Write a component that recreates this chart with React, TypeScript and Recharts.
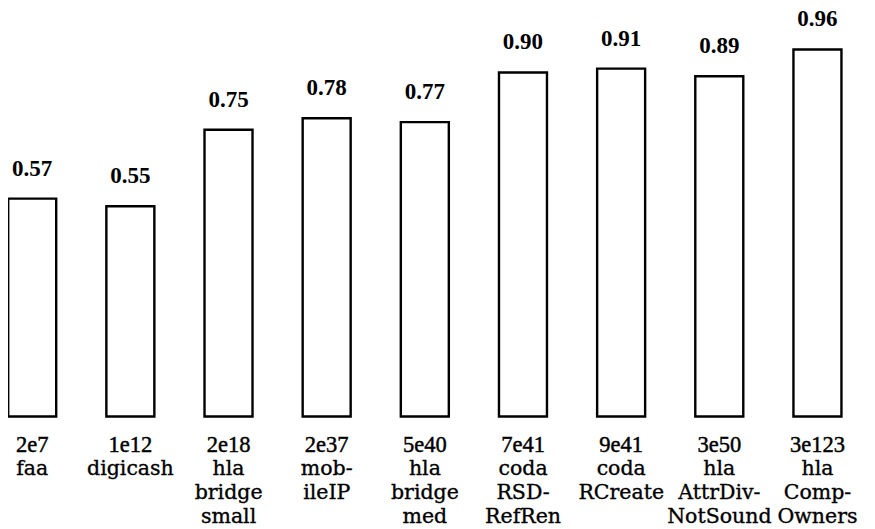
import React from 'react';
import { BarChart, Bar, XAxis, YAxis, LabelList } from 'recharts';

const codes = ['2e7', '1e12', '2e18', '2e37', '5e40', '7e41', '9e41', '3e50', '3e123'];
const names = [
  ['faa'],
  ['digicash'],
  ['hla', 'bridge', 'small'],
  ['mob-', 'ileIP'],
  ['hla', 'bridge', 'med'],
  ['coda', 'RSD-', 'RefRen'],
  ['coda', 'RCreate'],
  ['hla', 'AttrDiv-', 'NotSound'],
  ['hla', 'Comp-', 'Owners'],
];
const values = [0.57, 0.55, 0.75, 0.78, 0.77, 0.9, 0.91, 0.89, 0.96];

const data = codes.map((c, i) => ({ cat: c, idx: i, value: values[i] }));

const LINE = 23.7;

const CategoryTick = (props: any) => {
  const { x, y, payload } = props;
  const i = codes.indexOf(payload.value);
  const lines = names[i] || [];
  return (
    <g>
      <text
        x={x}
        y={y + 35}
        textAnchor="middle"
        fontFamily="'Liberation Serif', serif"
        fontSize={22.5}
        fill="#000"
        stroke="#000"
        strokeWidth={0.45}
      >
        {payload.value}
      </text>
      {lines.map((l, k) => (
        <text
          key={k}
          x={x}
          y={y + 35 + LINE * (k + 1)}
          textAnchor="middle"
          fontFamily="'DejaVu Serif', serif"
          fontSize={20.5}
          fill="#000"
          stroke="#000"
          strokeWidth={0.35}
        >
          {l}
        </text>
      ))}
    </g>
  );
};

const ValueLabel = (props: any) => {
  const { x, y, width, value } = props;
  return (
    <text
      x={x + width / 2}
      y={y - 23}
      textAnchor="middle"
      fontFamily="'Liberation Serif', serif"
      fontWeight="bold"
      fontSize={23}
      fill="#000"
    >
      {Number(value).toFixed(2)}
    </text>
  );
};

export default function App() {
  return (
    <div style={{ marginTop: -8, marginLeft: -8, width: 875, height: 529 }}>
      <BarChart
        width={875}
        height={529}
        data={data}
        margin={{ top: 34.2, right: 8.4, bottom: 0, left: -16.8 }}
      >
        <YAxis hide domain={[0, 1]} />
        <XAxis
          dataKey="cat"
          interval={0}
          axisLine={false}
          tickLine={false}
          tickSize={0}
          tickMargin={0}
          height={112.5}
          tick={<CategoryTick />}
        />
        <Bar
          dataKey="value"
          fill="#fff"
          stroke="#000"
          strokeWidth={2.4}
          barSize={48}
          isAnimationActive={false}
        >
          <LabelList dataKey="value" content={<ValueLabel />} />
        </Bar>
      </BarChart>
    </div>
  );
}
